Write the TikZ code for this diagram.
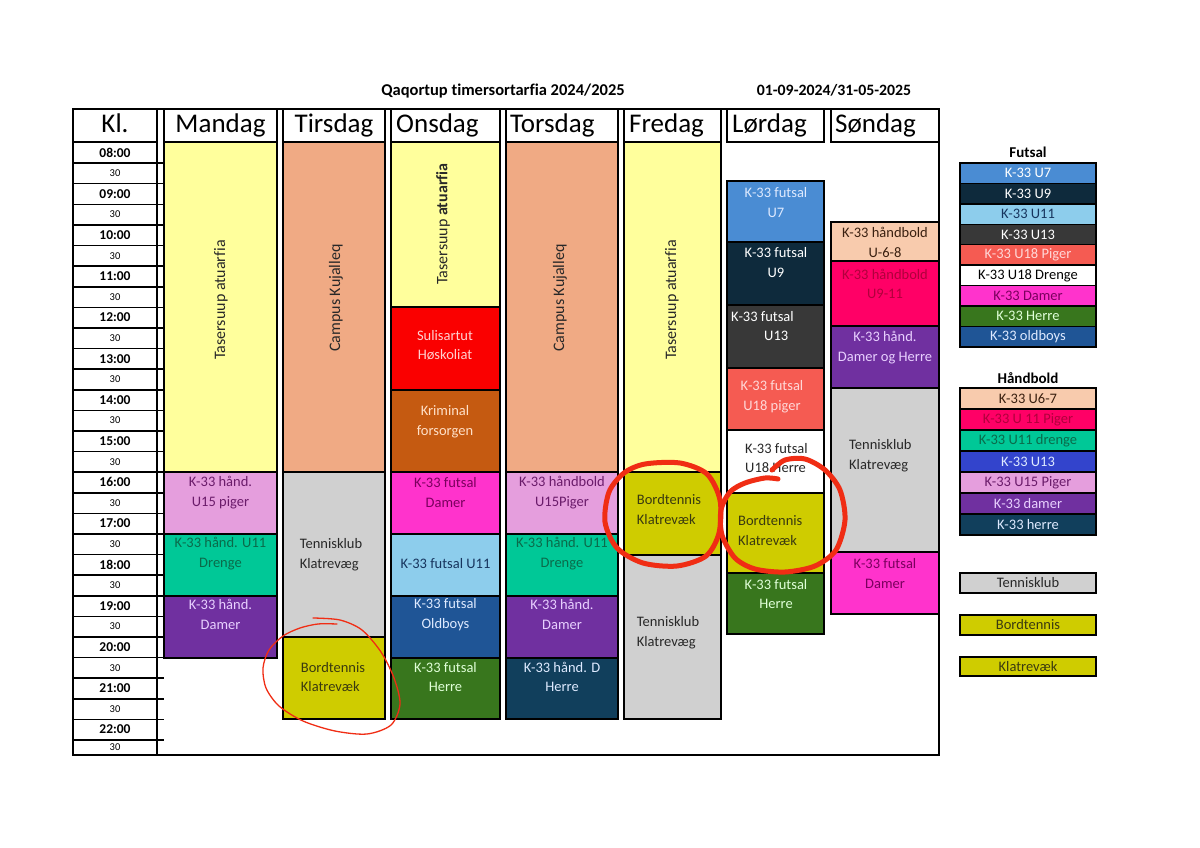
\documentclass[tikz,border=0pt]{standalone}
\usepackage{fontspec}
\setmainfont{Carlito}[Ligatures={NoCommon}]
\usetikzlibrary{positioning}

% block fills
\definecolor{cYellow}{RGB}{255,255,156}
\definecolor{cSalmon}{RGB}{240,170,132}
\definecolor{cLilac}{RGB}{229,158,221}
\definecolor{cTeal}{RGB}{0,200,151}
\definecolor{cPurple}{RGB}{112,48,160}
\definecolor{cGrey}{RGB}{208,208,208}
\definecolor{cOlive}{RGB}{207,204,0}
\definecolor{cRed}{RGB}{250,0,0}
\definecolor{cBrown}{RGB}{197,90,17}
\definecolor{cMagenta}{RGB}{255,51,204}
\definecolor{cSky}{RGB}{141,205,236}
\definecolor{cOld}{RGB}{31,85,150}
\definecolor{cGreen}{RGB}{56,118,29}
\definecolor{cHerre}{RGB}{17,63,92}
\definecolor{cUseven}{RGB}{74,140,211}
\definecolor{cUnine}{RGB}{14,42,60}
\definecolor{cUthirteen}{RGB}{56,56,56}
\definecolor{cCoral}{RGB}{245,91,82}
\definecolor{cPeach}{RGB}{248,203,173}
\definecolor{cCrimson}{RGB}{255,0,102}
\definecolor{cBlue}{RGB}{51,68,204}
\definecolor{cRing}{RGB}{240,45,20}
% text colours
\definecolor{tLilac}{RGB}{106,27,106}
\definecolor{tTeal}{RGB}{11,106,74}
\definecolor{tPurple}{RGB}{232,208,255}
\definecolor{tDark}{RGB}{40,40,40}
\definecolor{tOlive}{RGB}{58,58,16}
\definecolor{tRed}{RGB}{255,208,208}
\definecolor{tBrown}{RGB}{255,224,200}
\definecolor{tMagenta}{RGB}{122,0,94}
\definecolor{tSky}{RGB}{23,53,94}
\definecolor{tLight}{RGB}{222,234,255}
\definecolor{tGreen}{RGB}{224,255,216}
\definecolor{tCoral}{RGB}{255,216,216}
\definecolor{tPeach}{RGB}{58,32,16}
\definecolor{tCrimson}{RGB}{176,0,60}

\begin{document}
\begin{tikzpicture}[x=1pt, y=-1pt,
    frame/.style={draw=black, line width=2pt},
    slot/.style={draw=black, line width=2pt},
    lbl/.style={inner sep=0pt, align=center, font={\fontsize{14.5}{19.5}\selectfont}},
    side/.style={inner sep=0pt, rotate=90, text=tDark, font={\fontsize{16}{19}\selectfont}},
    day/.style={inner sep=0pt, font={\fontsize{27}{30}\selectfont}},
    hour/.style={inner sep=0pt, font={\bfseries\fontsize{13.5}{15}\selectfont}},
    half/.style={inner sep=0pt, font={\fontsize{10.5}{12}\selectfont}},
    legbox/.style={draw=black, line width=1.5pt, minimum width=136pt, inner sep=0pt, font={\fontsize{14.5}{16}\selectfont}},
    legtitle/.style={inner sep=0pt, font={\bfseries\fontsize{15}{17}\selectfont}},
    ring/.style={draw=cRing, line cap=round, line join=round}]

    \fill[white] (0,0) rectangle (1200,848);

    % titles
    \node[inner sep=0pt, anchor=base, font={\bfseries\fontsize{16.5}{18}\selectfont}] (title) at (503,95.5) {Qaqortup timersortarfia 2024/2025};
    \node[inner sep=0pt, anchor=base, font={\bfseries\fontsize{15.8}{18}\selectfont}] (period) at (834,95.5) {01-09-2024/31-05-2025};

    % header
    \foreach \a/\b in {73/157,164/277,283/385,391/500,506/618,624/721,727/824,831/939}
        \draw[frame] (\a,109) rectangle (\b,142.5);
    \node[day, anchor=base] (kl) at (115,133) {Kl.};
    \node[day, anchor=base] (mon) at (220.5,133) {Mandag};
    \node[day, anchor=base] (tue) at (334,133) {Tirsdag};
    \node[day, anchor=base west] (wed) at (396,133) {Onsdag};
    \node[day, anchor=base west] (thu) at (510,133) {Torsdag};
    \node[day, anchor=base west] (fri) at (629,133) {Fredag};
    \node[day, anchor=base west] (sat) at (732,133) {Lørdag};
    \node[day, anchor=base west] (sun) at (835,133) {Søndag};

    % time column
    \foreach \h [count=\i from 0] in {08,09,10,11,12,13,14,15,16,17,18,19,20,21,22}{
        \pgfmathsetmacro\ya{142.5+41.2*\i}
        \pgfmathsetmacro\yb{min(\ya+30.9,747.5)}
        \node[hour] (h\h) at (115,\ya+10.3) {\h:00};
        \node[half] (m\h) at (115,\yb) {30};
        \draw[line width=1.6pt] (73,\ya+20.6) -- (164,\ya+20.6);
        \ifnum\i<14 \draw[line width=1.6pt] (73,\ya+41.2) -- (164,\ya+41.2); \fi
    }
    \draw[line width=1.6pt] (157,109) -- (157,755);

    % Mandag
    \draw[slot, fill=cYellow] (164,142.5) rectangle (277,472);
    \draw[slot, fill=cLilac] (164,472) rectangle (277,534);
    \draw[slot, fill=cTeal] (164,534) rectangle (277,595.5);
    \draw[slot, fill=cPurple] (164,595.5) rectangle (277,657.5);
    % Tirsdag
    \draw[slot, fill=cSalmon] (283,142.5) rectangle (385,472);
    \draw[slot, fill=cGrey] (283,472) rectangle (385,637);
    \draw[slot, fill=cOlive] (283,637) rectangle (385,719);
    % Onsdag
    \draw[slot, fill=cYellow] (391,142.5) rectangle (500,307);
    \draw[slot, fill=cRed] (391,307) rectangle (500,389.5);
    \draw[slot, fill=cBrown] (391,389.5) rectangle (500,472);
    \draw[slot, fill=cMagenta] (391,472) rectangle (500,534);
    \draw[slot, fill=cSky] (391,534) rectangle (500,595.5);
    \draw[slot, fill=cOld] (391,595.5) rectangle (500,657.5);
    \draw[slot, fill=cGreen] (391,657.5) rectangle (500,719);
    % Torsdag
    \draw[slot, fill=cSalmon] (506,142.5) rectangle (618,472);
    \draw[slot, fill=cLilac] (506,472) rectangle (618,534);
    \draw[slot, fill=cTeal] (506,534) rectangle (618,595.5);
    \draw[slot, fill=cPurple] (506,595.5) rectangle (618,657.5);
    \draw[slot, fill=cHerre] (506,657.5) rectangle (618,719);
    % Fredag
    \draw[slot, fill=cYellow] (624,142.5) rectangle (721,472);
    \draw[slot, fill=cOlive] (624,472) rectangle (721,554.5);
    \draw[slot, fill=cGrey] (624,554.5) rectangle (721,719);
    % Lørdag
    \draw[slot, fill=cUseven] (727,181) rectangle (824,242);
    \draw[slot, fill=cUnine] (727,242) rectangle (824,305);
    \draw[slot, fill=cUthirteen] (727,305) rectangle (824,368);
    \draw[slot, fill=cCoral] (727,368) rectangle (824,430);
    \draw[slot, fill=white] (727,430) rectangle (824,493);
    \draw[slot, fill=cOlive] (727,493) rectangle (824,573);
    \draw[slot, fill=cGreen] (727,573) rectangle (824,634);
    % Søndag
    \draw[slot, fill=cPeach] (831,222) rectangle (939,261);
    \draw[slot, fill=cCrimson] (831,261) rectangle (939,326);
    \draw[slot, fill=cPurple] (831,326) rectangle (939,388);
    \draw[slot, fill=cGrey] (831,388) rectangle (939,552);
    \draw[slot, fill=cMagenta] (831,552) rectangle (939,614);

    \draw[frame] (73,109) rectangle (939,755);

    % labels
    \node[side] (monA) at (221,300) {Tasersuup atuarfia};
    \node[lbl, text=tLilac] (monB) at (220.5,492.5) {K-33 hånd.\\U15 piger};
    \node[lbl, text=tTeal] (monC) at (220.5,553.5) {K-33 hånd. U11\\Drenge};
    \node[lbl, text=tPurple] (monD) at (220.5,614.5) {K-33 hånd.\\Damer};

    \node[side] (tueA) at (336,298) {Campus Kujalleq};
    \node[lbl, align=left, text=tDark] (tueB) at (331,554.5) {Tennisklub\\Klatrevæg};
    \node[lbl, align=left, text=tOlive] (tueC) at (333,677) {Bordtennis\\Klatrevæk};

    \node[side] (wedA) at (443,224) {Tasersuup \textbf{atuarfia}};
    \node[lbl, text=tRed] (wedB) at (445,345) {Sulisartut\\Høskoliat};
    \node[lbl, text=tBrown] (wedC) at (445,421.5) {Kriminal\\forsorgen};
    \node[lbl, text=tMagenta] (wedD) at (445.5,492.5) {K-33 futsal\\Damer};
    \node[lbl, text=tSky] (wedE) at (445.5,564) {K-33 futsal U11};
    \node[lbl, text=tLight] (wedF) at (445.5,614.5) {K-33 futsal\\Oldboys};
    \node[lbl, text=tGreen] (wedG) at (445.5,677) {K-33 futsal\\Herre};

    \node[side] (thuA) at (560,298) {Campus Kujalleq};
    \node[lbl, text=tLilac] (thuB) at (562,492.5) {K-33 håndbold\\U15Piger};
    \node[lbl, text=tTeal] (thuC) at (562,553.5) {K-33 hånd. U11\\Drenge};
    \node[lbl, text=tPurple] (thuD) at (562,614.5) {K-33 hånd.\\Damer};
    \node[lbl, text=tLight] (thuE) at (562,677) {K-33 hånd. D\\Herre};

    \node[side] (friA) at (672,300) {Tasersuup atuarfia};
    \node[lbl, align=left, text=tOlive] (friB) at (669,509.5) {Bordtennis\\Klatrevæk};
    \node[lbl, align=left, text=tDark] (friC) at (668,632.5) {Tennisklub\\Klatrevæg};

    \node[lbl, text=tLight] (satA) at (776,202.5) {K-33 futsal\\U7};
    \node[lbl, text=white] (satB) at (776,262.5) {K-33 futsal\\U9};
    \node[lbl, align=left, text=white, anchor=west] (satC) at (731,326) {K-33 futsal\\\hspace*{33pt}U13};
    \node[lbl, text=tCoral] (satD) at (772,396.5) {K-33 futsal\\U18 piger};
    \node[lbl, align=left, text=tDark, anchor=west] (satE) at (745,458) {K-33 futsal\\U18 Herre};
    \node[lbl, align=left, text=tOlive, anchor=west] (satF) at (738,530.5) {Bordtennis\\Klatrevæk};
    \node[lbl, text=tGreen] (satG) at (776,594) {K-33 futsal\\Herre};

    \node[lbl, text=tPeach] (sunA) at (885,242.5) {K-33 håndbold\\U-6-8};
    \node[lbl, text=tCrimson] (sunB) at (885,284) {K-33 håndbold\\U9-11};
    \node[lbl, text=tPurple] (sunC) at (885,347.5) {K-33 hånd.\\Damer og Herre};
    \node[lbl, align=left, text=tDark, anchor=west] (sunD) at (849,455.5) {Tennisklub\\Klatrevæg};
    \node[lbl, text=tMagenta] (sunE) at (885,573.5) {K-33 futsal\\Damer};

    % legend
    \foreach \fc/\tc/\lab [count=\i from 0] in {cUseven/white/K-33 U7, cUnine/white/K-33 U9,
        cSky/tSky/K-33 U11, cUthirteen/white/K-33 U13, cCoral/tCoral/K-33 U18 Piger,
        white/black/K-33 U18 Drenge, cMagenta/tMagenta/K-33 Damer, cGreen/tGreen/K-33 Herre,
        cOld/tLight/K-33 oldboys}
        \node[legbox, fill=\fc, text=\tc, minimum height=20.44pt] (fut\i) at (1028,173.2+20.44*\i) {\lab};
    \node[legtitle, above=4pt of fut0] (futsal) {Futsal};

    \foreach \fc/\tc/\lab [count=\i from 0] in {cPeach/tPeach/K-33 U6-7, cCrimson/tCrimson/K-33 U 11 Piger,
        cTeal/tTeal/K-33 U11 drenge, cBlue/tLight/K-33 U13, cLilac/tLilac/K-33 U15 Piger,
        cPurple/tPurple/K-33 damer, cHerre/tLight/K-33 herre}
        \node[legbox, fill=\fc, text=\tc, minimum height=21pt] (hb\i) at (1028,398.5+21*\i) {\lab};
    \node[legtitle, above=3pt of hb0] (haandbold) {Håndbold};

    \node[legbox, fill=cGrey, text=tDark, minimum height=20pt] (lgTennis) at (1028,583) {Tennisklub};
    \node[legbox, fill=cOlive, text=tOlive, minimum height=20pt] (lgBord) at (1028,625) {Bordtennis};
    \node[legbox, fill=cOlive, text=tOlive, minimum height=19pt] (lgKlatre) at (1028,666.5) {Klatrevæk};

    % hand-drawn rings
    \draw[ring, line width=1.3pt] plot[smooth] coordinates {(313,618) (340,620) (362,630) (381,652) (394,678) (400,704) (391,725) (367,734) (335,731) (303,721) (279,706) (266,688) (263,668) (269,650) (283,636) (300,628) (318,624) (337,624)};
    \draw[ring, line width=5pt] plot[smooth cycle] coordinates {(645,464) (680,463) (707,474) (720,500) (719,533) (706,556) (677,566) (643,563) (617,548) (605,522) (609,492) (624,473)};
    \draw[ring, line width=5pt] plot[smooth] coordinates {(772,470) (785,460) (805,459) (825,470) (840,490) (845,520) (836,550) (815,566) (785,572) (755,569) (735,558) (722,535) (721,510) (730,492) (745,483) (765,478) (778,479)};
\end{tikzpicture}
\end{document}
